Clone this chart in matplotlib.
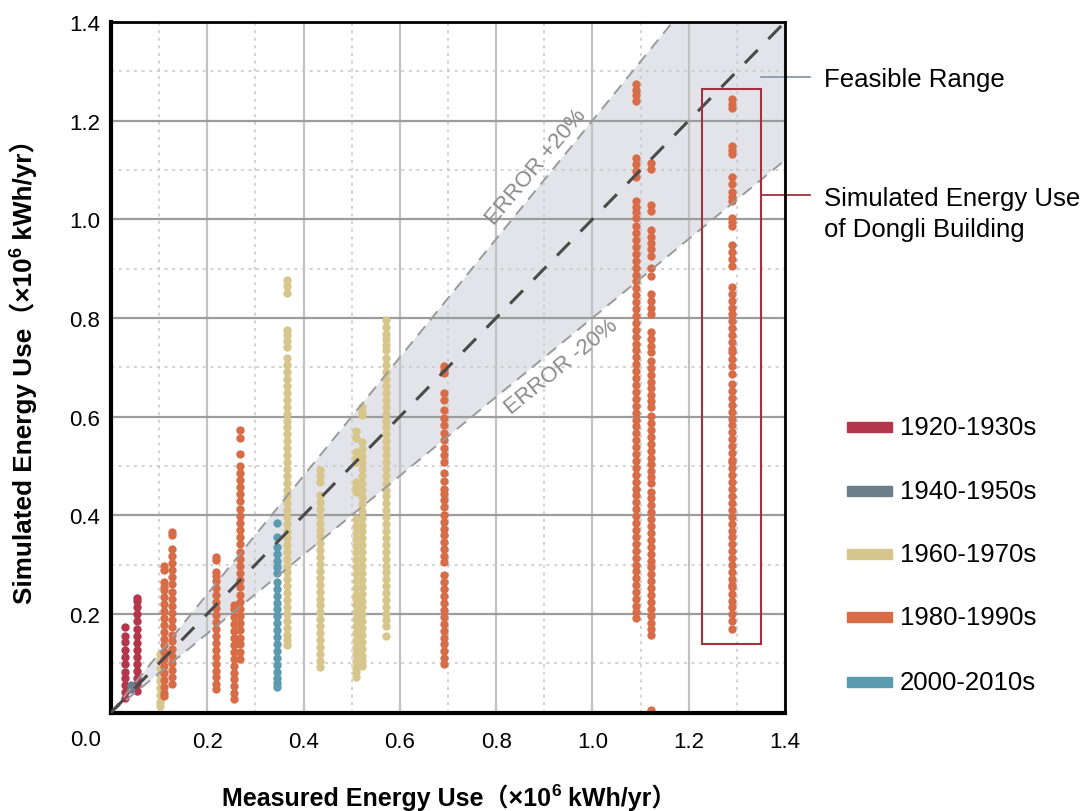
import matplotlib.pyplot as plt
from matplotlib.patches import Rectangle
from matplotlib.ticker import MultipleLocator

plt.rcParams['font.family'] = ['Liberation Sans', 'Noto Sans CJK SC', 'DejaVu Sans']

# era colours and labels
eras = ['1920-1930s', '1940-1950s', '1960-1970s', '1980-1990s', '2000-2010s']
era_colors = ['#b5354b', '#6a7f8a', '#d6c68b', '#d86c47', '#5a9bb0']

# measured energy use of each building (x) and its simulated results (y), x10^6 kWh/yr
x_1920 = [0.030, 0.055]
y_1920 = [
    [0.174, 0.156, 0.142, 0.127, 0.112, 0.098, 0.083, 0.069, 0.055, 0.041, 0.030],
    [0.233, 0.226, 0.214, 0.199, 0.185, 0.170, 0.156, 0.141, 0.127, 0.112, 0.098,
     0.084, 0.070, 0.057, 0.044],
]

x_1940 = [0.042]
y_1940 = [[0.056, 0.047]]

x_1960 = [0.102, 0.366, 0.434, 0.508, 0.522, 0.571]
y_1960 = [
    [0.119, 0.105, 0.091, 0.077, 0.063, 0.049, 0.035, 0.021, 0.014],
    [0.876, 0.864, 0.851, 0.776, 0.765, 0.753, 0.742, 0.718, 0.704, 0.690, 0.676,
     0.662, 0.648, 0.634, 0.620, 0.606, 0.592, 0.578, 0.564, 0.550, 0.536, 0.522,
     0.508, 0.494, 0.480, 0.466, 0.452, 0.438, 0.424, 0.410, 0.396, 0.382, 0.368,
     0.354, 0.340, 0.326, 0.312, 0.298, 0.284, 0.270, 0.256, 0.242, 0.228, 0.214,
     0.200, 0.186, 0.172, 0.158, 0.146, 0.136],
    [0.491, 0.480, 0.468, 0.441, 0.427, 0.413, 0.399, 0.385, 0.371, 0.357, 0.343,
     0.329, 0.315, 0.301, 0.287, 0.273, 0.259, 0.245, 0.231, 0.217, 0.203, 0.189,
     0.175, 0.161, 0.147, 0.133, 0.119, 0.105, 0.092],
    [0.570, 0.556, 0.529, 0.518, 0.508, 0.468, 0.458, 0.448, 0.393, 0.379, 0.365,
     0.351, 0.337, 0.323, 0.309, 0.295, 0.281, 0.267, 0.253, 0.239, 0.231, 0.217,
     0.203, 0.189, 0.175, 0.161, 0.147, 0.133, 0.119, 0.105, 0.091, 0.082, 0.072],
    [0.620, 0.610, 0.603, 0.549, 0.535, 0.521, 0.507, 0.493, 0.479, 0.465, 0.451,
     0.437, 0.423, 0.409, 0.395, 0.381, 0.367, 0.353, 0.339, 0.325, 0.311, 0.297,
     0.283, 0.269, 0.255, 0.241, 0.227, 0.213, 0.199, 0.185, 0.171, 0.157, 0.143,
     0.129, 0.115, 0.105, 0.095],
    [0.796, 0.782, 0.768, 0.758, 0.745, 0.735, 0.718, 0.704, 0.690, 0.676, 0.662,
     0.648, 0.634, 0.620, 0.606, 0.592, 0.578, 0.564, 0.550, 0.536, 0.522, 0.508,
     0.494, 0.480, 0.466, 0.452, 0.438, 0.424, 0.410, 0.396, 0.382, 0.368, 0.354,
     0.340, 0.326, 0.312, 0.298, 0.284, 0.270, 0.256, 0.242, 0.228, 0.214, 0.200,
     0.188, 0.176, 0.156],
]

x_1980 = [0.111, 0.126, 0.219, 0.255, 0.267, 0.692, 1.090, 1.122, 1.289]
y_1980 = [
    [0.298, 0.288, 0.265, 0.254, 0.248, 0.234, 0.220, 0.206, 0.192, 0.178, 0.164,
     0.150, 0.136, 0.122, 0.108, 0.094, 0.080, 0.066, 0.052, 0.040, 0.034],
    [0.366, 0.359, 0.332, 0.318, 0.303, 0.289, 0.274, 0.260, 0.245, 0.231, 0.216,
     0.202, 0.187, 0.173, 0.158, 0.144, 0.129, 0.115, 0.100, 0.086, 0.072, 0.058],
    [0.315, 0.309, 0.285, 0.276, 0.267, 0.253, 0.239, 0.225, 0.211, 0.197, 0.183,
     0.169, 0.155, 0.141, 0.127, 0.113, 0.099, 0.085, 0.071, 0.057, 0.048],
    [0.217, 0.209, 0.193, 0.179, 0.165, 0.151, 0.137, 0.123, 0.109, 0.095, 0.081,
     0.067, 0.053, 0.040, 0.027],
    [0.572, 0.556, 0.525, 0.500, 0.486, 0.471, 0.457, 0.442, 0.428, 0.413, 0.399,
     0.384, 0.370, 0.355, 0.341, 0.326, 0.312, 0.297, 0.283, 0.268, 0.254, 0.239,
     0.225, 0.210, 0.196, 0.181, 0.167, 0.152, 0.138, 0.123, 0.109],
    [0.702, 0.695, 0.688, 0.647, 0.634, 0.613, 0.598, 0.583, 0.566, 0.552, 0.536,
     0.522, 0.508, 0.485, 0.470, 0.454, 0.444, 0.430, 0.416, 0.401, 0.387, 0.373,
     0.359, 0.345, 0.331, 0.318, 0.305, 0.278, 0.264, 0.250, 0.236, 0.222, 0.208,
     0.194, 0.180, 0.166, 0.152, 0.138, 0.124, 0.111, 0.099],
    [1.274, 1.262, 1.251, 1.240, 1.125, 1.112, 1.098, 1.085, 1.037, 1.025, 1.014,
     1.003, 0.986, 0.972, 0.958, 0.944, 0.930, 0.916, 0.902, 0.888, 0.874, 0.860,
     0.846, 0.832, 0.818, 0.804, 0.790, 0.776, 0.762, 0.748, 0.734, 0.720, 0.706,
     0.692, 0.678, 0.664, 0.650, 0.636, 0.622, 0.608, 0.594, 0.580, 0.566, 0.552,
     0.538, 0.524, 0.510, 0.496, 0.482, 0.468, 0.454, 0.440, 0.426, 0.412, 0.398,
     0.384, 0.370, 0.356, 0.342, 0.328, 0.314, 0.300, 0.286, 0.272, 0.258, 0.244,
     0.230, 0.216, 0.203, 0.191],
    [1.115, 1.102, 1.029, 1.016, 0.978, 0.965, 0.952, 0.939, 0.926, 0.901, 0.884,
     0.849, 0.835, 0.821, 0.807, 0.772, 0.758, 0.744, 0.730, 0.713, 0.699, 0.685,
     0.671, 0.657, 0.643, 0.631, 0.619, 0.601, 0.587, 0.573, 0.559, 0.545, 0.531,
     0.517, 0.503, 0.490, 0.477, 0.465, 0.448, 0.434, 0.420, 0.406, 0.392, 0.378,
     0.364, 0.350, 0.336, 0.322, 0.308, 0.294, 0.280, 0.266, 0.252, 0.238, 0.224,
     0.210, 0.196, 0.182, 0.169, 0.157, 0.005],
    [1.243, 1.234, 1.226, 1.149, 1.140, 1.132, 1.085, 1.072, 1.055, 1.046, 1.038,
     1.003, 0.994, 0.986, 0.948, 0.934, 0.920, 0.906, 0.862, 0.848, 0.834, 0.820,
     0.807, 0.794, 0.780, 0.766, 0.752, 0.738, 0.730, 0.717, 0.702, 0.687, 0.666,
     0.652, 0.638, 0.624, 0.610, 0.596, 0.582, 0.568, 0.554, 0.540, 0.526, 0.512,
     0.507, 0.495, 0.481, 0.467, 0.453, 0.439, 0.425, 0.411, 0.397, 0.383, 0.369,
     0.355, 0.341, 0.327, 0.313, 0.299, 0.285, 0.271, 0.259, 0.255, 0.241, 0.227,
     0.213, 0.199, 0.185, 0.170],
]

x_2000 = [0.345]
y_2000 = [
    [0.385, 0.356, 0.336, 0.322, 0.308, 0.294, 0.283, 0.265, 0.251, 0.237, 0.223,
     0.209, 0.195, 0.181, 0.167, 0.153, 0.139, 0.125, 0.111, 0.097, 0.083, 0.069,
     0.060, 0.051],
]

band_low, band_high = 0.8, 1.2   # +/-20% error range
dongli_box = (1.228, 0.139, 1.350, 1.265)  # x0, y0, x1, y1

fig = plt.figure(figsize=(10.91, 8.12), dpi=100)
ax = fig.add_axes([111 / 1091, 1 - 713.5 / 812, 674 / 1091, 690.5 / 812])
ax.set_xlim(0, 1.4)
ax.set_ylim(0, 1.4)

# grid
ax.set_axisbelow(True)
ax.xaxis.set_major_locator(MultipleLocator(0.2))
ax.yaxis.set_major_locator(MultipleLocator(0.2))
ax.xaxis.set_minor_locator(MultipleLocator(0.1))
ax.yaxis.set_minor_locator(MultipleLocator(0.1))
ax.xaxis.grid(True, which='major', color='#c2c2c2', lw=1.6)
ax.yaxis.grid(True, which='major', color='#9c9c9c', lw=1.6)
ax.grid(True, which='minor', color='#c8c8c8', lw=1.1, ls=(0, (2, 3)))

# feasible range band
bx = [0, 1.4]
ax.fill_between(bx, [band_low * v for v in bx], [band_high * v for v in bx],
                color='#e3e4e9', lw=0, zorder=0.4)
ax.plot(bx, [band_low * v for v in bx], color='#9a9a9a', lw=1.4, ls=(0, (6, 4)), zorder=3)
ax.plot(bx, [band_high * v for v in bx], color='#9a9a9a', lw=1.4, ls=(0, (6, 4)), zorder=3)
ax.plot(bx, bx, color='#4a4a4a', lw=2.2, ls=(0, (6, 5)), zorder=3)

# simulated results
groups = [(x_1920, y_1920), (x_1940, y_1940), (x_1960, y_1960), (x_1980, y_1980), (x_2000, y_2000)]
for (xs, ys), c in zip(groups, era_colors):
    for xv, yv in zip(xs, ys):
        ax.plot([xv] * len(yv), yv, 'o', color=c, ms=6, mew=0, zorder=2)

ax.text(0.882, 1.108, 'ERROR +20%', rotation=50, color='#8a8a8a', fontsize=16,
        ha='center', va='center')
ax.text(0.936, 0.702, 'ERROR -20%', rotation=39, color='#8a8a8a', fontsize=16,
        ha='center', va='center')

# Dongli building box and callouts
x0, y0, x1, y1 = dongli_box
ax.add_patch(Rectangle((x0, y0), x1 - x0, y1 - y0, fill=False, ec='#a3323f', lw=1.5, zorder=4))
ax.plot([1.350, 1.452], [1.288, 1.288], color='#8a9ab0', lw=1.3, clip_on=False)
ax.plot([x1, 1.452], [1.050, 1.050], color='#a3323f', lw=1.3, clip_on=False)
fig.text(824 / 1091, 1 - 80 / 812, 'Feasible Range', fontsize=18.5, va='center')
fig.text(824 / 1091, 1 - 214.5 / 812, 'Simulated Energy Use\nof Dongli Building',
         fontsize=18.5, va='center', linespacing=1.35)

# axes styling
for side in ['left', 'bottom']:
    ax.spines[side].set_linewidth(3)
for side in ['top', 'right']:
    ax.spines[side].set_linewidth(2)
ax.tick_params(which='both', length=0, labelsize=16)
ax.tick_params(axis='x', pad=13)
ax.tick_params(axis='y', pad=8)
ax.set_xticks([0.2, 0.4, 0.6, 0.8, 1.0, 1.2, 1.4])
ax.set_xticklabels(['0.2', '0.4', '0.6', '0.8', '1.0', '1.2', '1.4'])
ax.set_yticks([0.2, 0.4, 0.6, 0.8, 1.0, 1.2, 1.4])
ax.set_yticklabels(['0.2', '0.4', '0.6', '0.8', '1.0', '1.2', '1.4'])
ax.text(-0.052, -0.054, '0.0', fontsize=16, ha='center', va='center', clip_on=False)

# axis titles, built from pieces so the superscript 6 is a proper raised digit
tx1 = fig.text(222 / 1091, 1 - 806 / 812, 'Measured Energy Use（×10', fontsize=18,
               fontweight='bold', ha='left', va='baseline')
tx2 = ax.annotate('6', xy=(1, 1), xycoords=tx1, xytext=(0.5, 0.5), textcoords='offset points',
                  fontsize=12.5, fontweight='bold', ha='left', va='top')
ax.annotate(' kWh/yr）', xy=(1, 0), xycoords=(tx2, tx1), fontsize=18,
            fontweight='bold', ha='left', va='bottom')

ty1 = fig.text(23 / 1091, 1 - 604 / 812, 'Simulated Energy Use（×10', fontsize=18.8,
               fontweight='bold', ha='center', va='bottom', rotation=90)
ty2 = ax.annotate('6', xy=(0, 1), xycoords=ty1, xytext=(-0.5, 0.5), textcoords='offset points',
                  fontsize=13, fontweight='bold', ha='left', va='bottom', rotation=90)
ax.annotate(' kWh/yr）', xy=(0.5, 1), xycoords=(ty1, ty2), fontsize=18.8,
            fontweight='bold', ha='center', va='bottom', rotation=90)

# legend
leg_y = [428, 492, 555, 618, 683]
for lab, c, yp in zip(eras, era_colors, leg_y):
    fig.patches.append(Rectangle((847 / 1091, 1 - (yp + 5) / 812), 45 / 1091, 10 / 812,
                                 transform=fig.transFigure, color=c))
    fig.text(900 / 1091, 1 - yp / 812, lab, fontsize=18.5, va='center')

fig.savefig('out.png', dpi=100)
